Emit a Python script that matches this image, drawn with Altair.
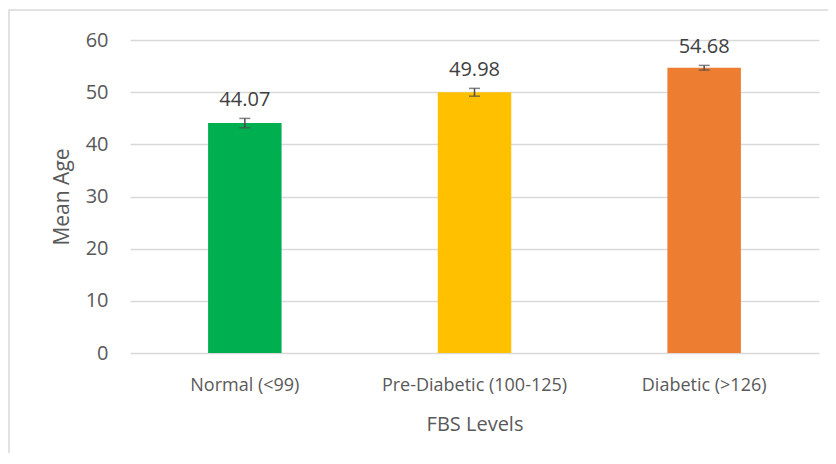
import altair as alt
import pandas as pd

categories = ["Normal (<99)", "Pre-Diabetic (100-125)", "Diabetic (>126)"]
means = [44.07, 49.98, 54.68]
errors = [0.9, 0.75, 0.45]
colors = ["#00B050", "#FFC000", "#ED7D31"]

df = pd.DataFrame({"cat": categories, "mean": means, "err": errors})
df["lo"] = df["mean"] - df["err"]
df["hi"] = df["mean"] + df["err"]
df["label"] = [f"{m:.2f}" for m in means]

FONT = "Open Sans"
TXT = "#595959"

x = alt.X("cat:N", sort=categories,
          scale=alt.Scale(paddingInner=0.68, paddingOuter=0.34),
          axis=alt.Axis(title="FBS Levels", labelAngle=0, labelFontSize=18,
                        titleFontSize=20, labelPadding=23, titlePadding=20,
                        labelLimit=400,
                        ticks=False, domain=False, labelColor=TXT,
                        titleColor=TXT, labelFont=FONT, titleFont=FONT,
                        titleFontWeight="normal"))
y = alt.Y("mean:Q", scale=alt.Scale(domain=[0, 60]),
          axis=alt.Axis(title="Mean Age", values=[0, 10, 20, 30, 40, 50, 60],
                        labelFontSize=20, titleFontSize=21, labelPadding=22,
                        titlePadding=13, ticks=False, domain=False,
                        gridColor="#D9D9D9", gridWidth=1.5, labelColor=TXT,
                        titleColor=TXT, labelFont=FONT, titleFont=FONT,
                        titleFontWeight="normal"))

base = alt.Chart(df)

bars = base.mark_bar().encode(
    x=x, y=y,
    color=alt.Color("cat:N", sort=categories,
                    scale=alt.Scale(domain=categories, range=colors),
                    legend=None))

rules = base.mark_rule(color="#4D4D4D", strokeWidth=1.5).encode(
    x=alt.X("cat:N", sort=categories), y="lo:Q", y2="hi:Q")

caps_lo = base.mark_tick(color="#4D4D4D", thickness=1.5, size=11,
                         orient="horizontal").encode(
    x=alt.X("cat:N", sort=categories), y="lo:Q")
caps_hi = base.mark_tick(color="#4D4D4D", thickness=1.5, size=11,
                         orient="horizontal").encode(
    x=alt.X("cat:N", sort=categories), y="hi:Q")

labels = base.mark_text(baseline="bottom", dy=-8, fontSize=20, font=FONT,
                        color="#404040").encode(
    x=alt.X("cat:N", sort=categories), y="hi:Q", text="label:N")

frame = alt.Chart(pd.DataFrame({"a": [0]})).mark_rect(
    fill=None, stroke="#D9D9D9", strokeWidth=1.5).encode(
    x=alt.value(-121), x2=alt.value(720), y=alt.value(-30), y2=alt.value(430))

chart = alt.layer(frame, bars, rules, caps_lo, caps_hi, labels).properties(
    width=689, height=313,
    autosize=alt.AutoSizeParams(type="none"),
    padding={"left": 122, "top": 32, "right": 9, "bottom": 100},
    background="white",
).configure_view(stroke=None)

chart.save("out.html", embed_options={"renderer": "svg", "actions": False})
